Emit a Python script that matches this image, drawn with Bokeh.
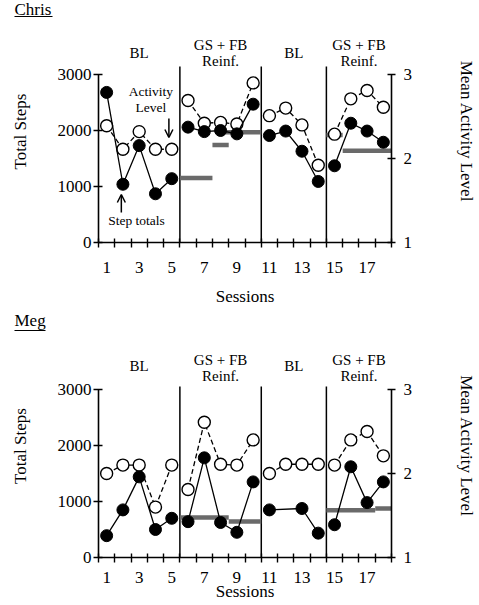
import math
from bokeh.plotting import figure
from bokeh.models import Range1d, LinearAxis, FixedTicker, Arrow, OpenHead
from bokeh.layouts import column
from bokeh.embed import file_html
from bokeh.resources import INLINE
from bokeh.core.properties import value

nan = float("nan")

# ---------------- data ----------------
sessions = list(range(1, 19))
session_tick_labels = [1, 3, 5, 7, 9, 11, 13, 15, 17]
session_minor_ticks = [s + 0.5 for s in range(0, 19)]
step_ticks = [0, 1000, 2000, 3000]
activity_ticks = [1, 2, 3]
phase_changes = [5.5, 10.5, 14.5]
phase_centers = [3, 8, 12.5, 16.5]
phase_line1 = ["BL", "GS + FB", "BL", "GS + FB"]
phase_line2 = ["", "Reinf.", "", "Reinf."]

chris_steps = [2680, 1040, 1730, 870, 1140, 2060, 1980, 2000, 1940, 2470,
               1910, 1990, 1630, 1090, 1370, 2130, 1990, 1790]
chris_activity = [2.39, 2.11, 2.32, 2.11, 2.11, 2.69, 2.42, 2.43, 2.41, 2.90,
                  2.51, 2.60, 2.40, 1.92, 2.29, 2.71, 2.81, 2.61]
chris_crit_start = [5.5, 7.5, 8.3, 14.5, 15.5]
chris_crit_end = [7.5, 8.5, 10.5, 15.5, 18.5]
chris_crit_steps = [1150, 1740, 1970, 1920, 1640]

meg_steps = [390, 850, 1440, 500, 700, 640, 1780, 625, 450, 1350,
             850, nan, 875, 435, 585, 1620, 980, 1350]
meg_activity = [2.00, 2.10, 2.10, 1.60, 2.10, 1.81, 2.61, 2.11, 2.10, 2.40,
                2.00, 2.11, 2.11, 2.11, 2.10, 2.40, 2.50, 2.21]
meg_crit_start = [5.5, 8.5, 14.5, 17.5]
meg_crit_end = [8.5, 10.5, 17.5, 18.5]
meg_crit_steps = [715, 645, 845, 875]

# ---------------- layout constants ----------------
FONT = "Liberation Serif"
PX_PER_1000 = 56.0
PLOT_W = 479
LEFT_B = 98
RIGHT_B = 73
FRAME_W = PLOT_W - LEFT_B - RIGHT_B   # 308
X0, X1 = 0.5, 18.5


def xd(page_x):
    """page x pixel -> session units"""
    return X0 + (page_x - LEFT_B) / FRAME_W * (X1 - X0)


def name_strip(name, height, mid, underline, width):
    f = figure(width=PLOT_W, height=height, x_range=Range1d(0, PLOT_W),
               y_range=Range1d(height, 0), x_axis_type=None, y_axis_type=None,
               output_backend="svg", toolbar_location=None, title=None,
               min_border=0, min_border_left=0, min_border_right=0,
               min_border_top=0, min_border_bottom=0, frame_align=False)
    f.outline_line_color = None
    f.text(x=[14], y=[mid], text=[name], text_font=value(FONT),
           text_font_size="17px", text_align="left",
           text_baseline="middle", text_color="black")
    f.segment(x0=[14], y0=[underline], x1=[14 + width], y1=[underline],
              line_color="black", line_width=1.1)
    return f


def make_panel(steps, activity, cs, ce, cv, frame_top, zero_page, border_b,
               tick_standoff, label_standoff, pos):
    frame_h = zero_page - frame_top
    y_end = frame_h / PX_PER_1000 * 1000.0

    def yd(page_y):
        return (zero_page - page_y) / PX_PER_1000 * 1000.0

    p = figure(width=PLOT_W, height=frame_h + border_b,
               x_range=Range1d(X0, X1), y_range=Range1d(0, y_end),
               x_axis_type=None, y_axis_type=None,
               output_backend="svg", toolbar_location=None, title=None,
               min_border_left=LEFT_B, min_border_right=RIGHT_B,
               min_border_top=0, min_border_bottom=border_b, frame_align=False)
    p.outline_line_color = None
    p.background_fill_color = "white"
    p.border_fill_color = "white"
    p.extra_y_ranges = {"act": Range1d(1, 1 + y_end / 1500.0)}

    xa = LinearAxis(ticker=FixedTicker(ticks=session_tick_labels,
                                       minor_ticks=session_minor_ticks))
    xa.axis_label = "Sessions"
    xa.major_tick_in = 0
    xa.major_tick_out = 5
    xa.minor_tick_in = 4
    xa.minor_tick_out = 5
    xa.minor_tick_line_width = 1.4
    xa.minor_tick_line_color = "black"
    xa.major_tick_line_color = None
    xa.major_label_standoff = tick_standoff
    xa.axis_label_standoff = label_standoff
    p.add_layout(xa, "below")

    ya = LinearAxis(ticker=FixedTicker(ticks=step_ticks), bounds=(0, 3000))
    ya.axis_label = "Total Steps"
    ya.major_tick_in = 4
    ya.major_tick_out = 5
    ya.major_tick_line_width = 1.4
    ya.major_tick_line_color = "black"
    ya.minor_tick_line_color = None
    ya.major_label_standoff = 2
    ya.axis_label_standoff = 25
    p.add_layout(ya, "left")

    ra = LinearAxis(y_range_name="act", ticker=FixedTicker(ticks=activity_ticks),
                    bounds=(1, 3))
    ra.axis_label = "Mean Activity Level"
    ra.major_tick_in = 4
    ra.major_tick_out = 4
    ra.major_tick_line_width = 1.4
    ra.major_tick_line_color = "black"
    ra.minor_tick_line_color = None
    ra.major_label_standoff = 8
    ra.axis_label_standoff = 42
    p.add_layout(ra, "right")

    for ax in (xa, ya, ra):
        ax.axis_line_width = 1.6
        ax.axis_line_color = "black"
        ax.major_label_text_font = FONT
        ax.major_label_text_font_size = "17px"
        ax.major_label_text_color = "black"
        ax.axis_label_text_font = FONT
        ax.axis_label_text_font_size = "17px"
        ax.axis_label_text_font_style = "normal"
        ax.axis_label_text_color = "black"

    # phase change lines
    p.segment(x0=phase_changes, y0=[0] * len(phase_changes),
              x1=phase_changes, y1=[yd(pos["phase_top"])] * len(phase_changes),
              line_color="black", line_width=1.5)

    # phase labels
    p.text(x=phase_centers,
           y=[yd(pos["bl"]) if t == "BL" else yd(pos["l1"]) for t in phase_line1],
           text=phase_line1, text_font=value(FONT), text_font_size="15px",
           text_align="center", text_baseline="middle", text_color="black")
    idx2 = [i for i, t in enumerate(phase_line2) if t]
    p.text(x=[phase_centers[i] for i in idx2], y=[yd(pos["l2"])] * len(idx2),
           text=[phase_line2[i] for i in idx2], text_font=value(FONT),
           text_font_size="15px", text_align="center", text_baseline="middle",
           text_color="black")

    # criterion bars
    p.segment(x0=cs, y0=cv, x1=ce, y1=cv, line_color="#6a6a6a", line_width=4.5,
              line_cap="butt")

    bounds = [X0] + phase_changes + [X1]
    # activity level: dashed line, open circles (right axis)
    for lo, hi in zip(bounds[:-1], bounds[1:]):
        xs = [s for s, v in zip(sessions, activity) if lo < s < hi and not math.isnan(v)]
        vs = [v for s, v in zip(sessions, activity) if lo < s < hi and not math.isnan(v)]
        p.line(xs, vs, y_range_name="act", line_color="black", line_width=1.3,
               line_dash="5 3")
    p.scatter(sessions, activity, y_range_name="act", marker="circle", size=12,
              fill_color="white", line_color="black", line_width=1.4)

    # step totals: solid line, filled circles (left axis)
    for lo, hi in zip(bounds[:-1], bounds[1:]):
        xs = [s for s, v in zip(sessions, steps) if lo < s < hi and not math.isnan(v)]
        vs = [v for s, v in zip(sessions, steps) if lo < s < hi and not math.isnan(v)]
        p.line(xs, vs, line_color="black", line_width=1.3)
    fx = [s for s, v in zip(sessions, steps) if not math.isnan(v)]
    fv = [v for v in steps if not math.isnan(v)]
    p.scatter(fx, fv, marker="circle", size=12, fill_color="black",
              line_color="black")
    return p, yd


# ---------------- Chris ----------------
t1 = name_strip("Chris", 20, 8.5, 16, 38)
top_pos = dict(phase_top=66, l1=44, l2=60.7, bl=52)
p1, yd1 = make_panel(chris_steps, chris_activity, chris_crit_start,
                     chris_crit_end, chris_crit_steps, 20, 242, 66, 14, 11, top_pos)

p1.text(x=[xd(153), xd(153)], y=[yd1(90.7), yd1(107.3)],
        text=["Activity", "Level"], text_font=value(FONT), text_font_size="13.5px",
        text_align="center", text_baseline="middle", text_color="black")
p1.text(x=[xd(138)], y=[yd1(220)], text=["Step totals"], text_font=value(FONT),
        text_font_size="13.5px", text_align="center", text_baseline="middle",
        text_color="black")
p1.add_layout(Arrow(start=None, end=OpenHead(size=8, line_width=1.5),
                    x_start=xd(172), y_start=yd1(118), x_end=xd(172), y_end=yd1(137),
                    line_width=1.5, line_color="black"))
p1.add_layout(Arrow(start=None, end=OpenHead(size=8, line_width=1.5),
                    x_start=xd(122), y_start=yd1(212), x_end=xd(122), y_end=yd1(194),
                    line_width=1.5, line_color="black"))

# ---------------- Meg ----------------
t2 = name_strip("Meg", 26, 11.8, 22, 31)
bot_pos = dict(phase_top=386, l1=359.3, l2=375, bl=365)
p2, yd2 = make_panel(meg_steps, meg_activity, meg_crit_start,
                     meg_crit_end, meg_crit_steps, 334, 557, 48, 9, -4, bot_pos)

layout = column(t1, p1, t2, p2, spacing=0)
open("out.html", "w").write(file_html(layout, INLINE))
